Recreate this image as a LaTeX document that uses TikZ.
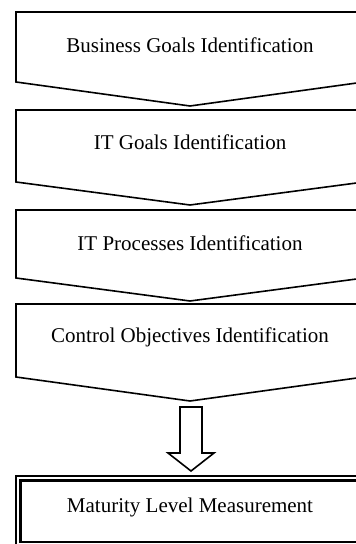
\documentclass[tikz,border=0pt]{standalone}
\usepackage{fontspec}
\setmainfont{Liberation Serif}
\tikzset{
    % boxes
    chevron/.style={
        draw=black,
        line width=0.8pt,
        line join=miter
    },
    label/.style={
        font=\fontsize{10.5}{12}\selectfont,
        inner sep=1pt
    },
    % arrows
    block-arrow/.style={
        draw=black,
        line width=0.8pt,
        fill=white
    },
    outer-frame/.style={
        draw=black,
        line width=0.8pt
    },
    inner-frame/.style={
        draw=black,
        line width=1.2pt
    }
}
\begin{document}
\begin{tikzpicture}[x=0.5pt, y=-0.5pt]

        \useasboundingbox (0, 0) rectangle (356, 544);
        \clip (0, 0) rectangle (356, 544);

        % draw steps
        \foreach \t/\s/\p/\ty/\n/\l in {
            12/82/106/45/business/Business Goals Identification,
            110/182/205/142/itgoals/IT Goals Identification,
            210/278/301/243/processes/IT Processes Identification,
            304/377/401/337/control/Control Objectives Identification} {
            \draw [chevron] (16, \s) -- (16, \t) -- (364, \t) -- (364, \s) -- (190, \p) -- cycle;
            \node [label] (\n) at (190, \ty) {\l};
        }

        % draw arrow
        \draw [block-arrow] (180, 407) -- (202, 407) -- (202, 453) -- (214, 453)
            -- (191, 471) -- (168, 453) -- (180, 453) -- cycle;

        % last step
        \draw [outer-frame] (16, 476) rectangle (366, 548);
        \draw [inner-frame] (20.5, 480.5) rectangle (361.5, 542);
        \node [label] (maturity) at (190, 507) {Maturity Level Measurement};

    \end{tikzpicture}
\end{document}
